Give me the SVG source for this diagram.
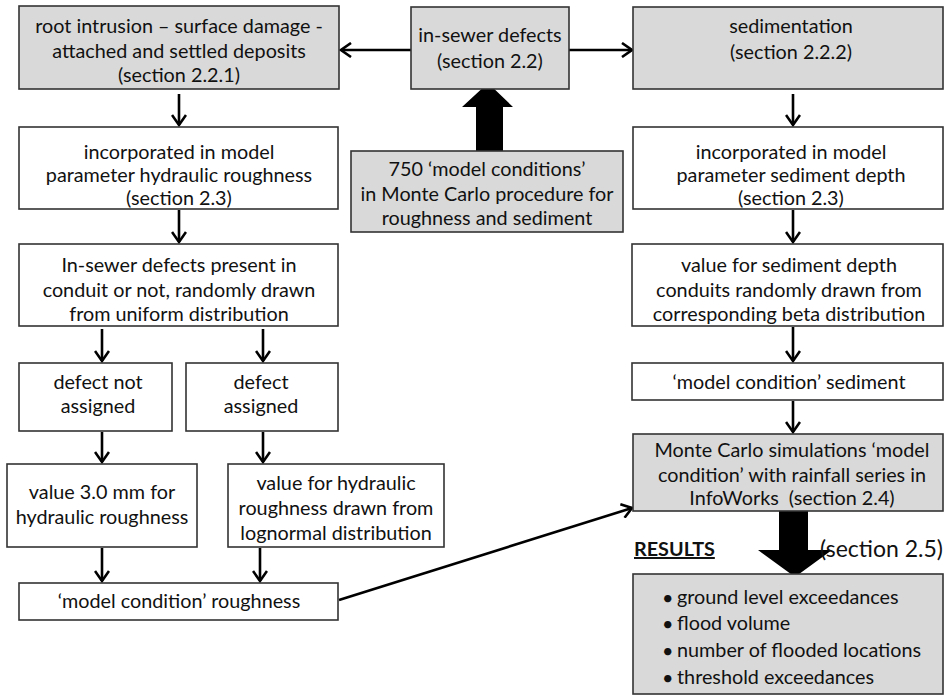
<svg xmlns="http://www.w3.org/2000/svg" width="944" height="695" viewBox="0 0 944 695">
  <style>
    .box { stroke: #333; stroke-width: 1.6; }
    .grey { fill: #d9d9d9; }
    .white { fill: #ffffff; }
    text { font-family: Lato, "Open Sans", "Liberation Sans", sans-serif; font-size: 19.8px; fill: #111; text-anchor: middle; }
    .left { text-anchor: start; }
    .bold { font-weight: bold; }
    .large { font-size: 23px; }
    .conn { fill: none; stroke: #000; stroke-width: 2.6; }
    .big { fill: #000; }
  </style>
  <defs>
    <marker id="open" viewBox="0 0 14 16" refX="12" refY="8" markerWidth="14" markerHeight="16" markerUnits="userSpaceOnUse" orient="auto">
      <path d="M2,1 L12,8 L2,15" fill="none" stroke="#000" stroke-width="2.6" stroke-linejoin="miter"/>
    </marker>
  </defs>

  <rect width="944" height="695" fill="#ffffff"/>

  <!-- connectors -->
  <g id="connectors">
    <line class="conn" x1="411" y1="50" x2="341" y2="50" marker-end="url(#open)"/>
    <line class="conn" x1="569" y1="50" x2="632" y2="50" marker-end="url(#open)"/>
    <line class="conn" x1="179" y1="94" x2="179" y2="125" marker-end="url(#open)"/>
    <line class="conn" x1="793" y1="94" x2="793" y2="125" marker-end="url(#open)"/>
    <line class="conn" x1="179" y1="210" x2="179" y2="242" marker-end="url(#open)"/>
    <line class="conn" x1="793" y1="210" x2="793" y2="242" marker-end="url(#open)"/>
    <line class="conn" x1="102" y1="329" x2="102" y2="361" marker-end="url(#open)"/>
    <line class="conn" x1="263" y1="329" x2="263" y2="361" marker-end="url(#open)"/>
    <line class="conn" x1="793" y1="327" x2="793" y2="361" marker-end="url(#open)"/>
    <line class="conn" x1="102" y1="432" x2="102" y2="462" marker-end="url(#open)"/>
    <line class="conn" x1="263" y1="432" x2="263" y2="462" marker-end="url(#open)"/>
    <line class="conn" x1="793" y1="401" x2="793" y2="432" marker-end="url(#open)"/>
    <line class="conn" x1="102" y1="548" x2="102" y2="581" marker-end="url(#open)"/>
    <line class="conn" x1="260" y1="548" x2="260" y2="581" marker-end="url(#open)"/>
    <line class="conn" x1="339" y1="600" x2="632" y2="508" marker-end="url(#open)"/>
    <!-- block arrows -->
    <polygon class="big" points="476,151 476,107 462,107 488,83 513,107 503,107 503,151"/>
    <polygon class="big" points="779,511 779,550 758,550 795,577 832,550 808,550 808,511"/>
  </g>

  <g id="root-intrusion">
    <rect class="box grey" x="19" y="6" width="320" height="83"/>
    <text x="179" y="33">root intrusion – surface damage -</text>
    <text x="179" y="57.5">attached and settled deposits</text>
    <text x="179" y="82">(section 2.2.1)</text>
  </g>

  <g id="in-sewer-defects">
    <rect class="box grey" x="411" y="7" width="158" height="82"/>
    <text x="490" y="42">in-sewer defects</text>
    <text x="490" y="68">(section 2.2)</text>
  </g>

  <g id="sedimentation">
    <rect class="box grey" x="633" y="7" width="310" height="82"/>
    <text x="791" y="33">sedimentation</text>
    <text x="791" y="59">(section 2.2.2)</text>
  </g>

  <g id="param-roughness">
    <rect class="box white" x="19" y="127" width="319" height="82"/>
    <text x="179" y="159">incorporated in model</text>
    <text x="179" y="182">parameter hydraulic roughness</text>
    <text x="179" y="205">(section 2.3)</text>
  </g>

  <g id="monte-carlo-procedure">
    <rect class="box grey" x="351" y="151" width="272" height="81"/>
    <text x="487" y="176">750 ‘model conditions’</text>
    <text x="487" y="201">in Monte Carlo procedure for</text>
    <text x="487" y="225">roughness and sediment</text>
  </g>

  <g id="param-sediment">
    <rect class="box white" x="633" y="127" width="310" height="82"/>
    <text x="791" y="159">incorporated in model</text>
    <text x="791" y="182">parameter sediment depth</text>
    <text x="791" y="205">(section 2.3)</text>
  </g>

  <g id="defects-present">
    <rect class="box white" x="19" y="244" width="319" height="82"/>
    <text x="179" y="272">In-sewer defects present in</text>
    <text x="179" y="297">conduit or not, randomly drawn</text>
    <text x="179" y="321">from uniform distribution</text>
  </g>

  <g id="sediment-depth-value">
    <rect class="box white" x="632" y="244" width="311" height="82"/>
    <text x="789" y="272">value for sediment depth</text>
    <text x="789" y="297">conduits randomly drawn from</text>
    <text x="789" y="321">corresponding beta distribution</text>
  </g>

  <g id="defect-not-assigned">
    <rect class="box white" x="19" y="363" width="153" height="68"/>
    <text x="98" y="389">defect not</text>
    <text x="98" y="413">assigned</text>
  </g>

  <g id="defect-assigned">
    <rect class="box white" x="186" y="363" width="152" height="68"/>
    <text x="261" y="389">defect</text>
    <text x="261" y="413">assigned</text>
  </g>

  <g id="condition-sediment">
    <rect class="box white" x="632" y="363" width="311" height="37"/>
    <text x="789" y="389">‘model condition’ sediment</text>
  </g>

  <g id="monte-carlo-simulations">
    <rect class="box grey" x="633" y="434" width="310" height="77"/>
    <text x="792" y="457">Monte Carlo simulations ‘model</text>
    <text x="792" y="482">condition’ with rainfall series in</text>
    <text x="792" y="505" xml:space="preserve">InfoWorks  (section 2.4)</text>
  </g>

  <g id="roughness-fixed">
    <rect class="box white" x="7" y="464" width="190" height="83"/>
    <text x="102" y="499">value 3.0 mm for</text>
    <text x="102" y="524">hydraulic roughness</text>
  </g>

  <g id="roughness-lognormal">
    <rect class="box white" x="228" y="464" width="216" height="83"/>
    <text x="336" y="490">value for hydraulic</text>
    <text x="336" y="515">roughness drawn from</text>
    <text x="336" y="540">lognormal distribution</text>
  </g>

  <g id="condition-roughness">
    <rect class="box white" x="19" y="583" width="319" height="37"/>
    <text x="179" y="608">‘model condition’ roughness</text>
  </g>

  <g id="results">
    <text class="left bold" x="634" y="556" text-decoration="underline">RESULTS</text>
    <text class="left large" x="820" y="557">(section 2.5)</text>
    <rect class="box grey" x="633" y="574" width="310" height="120"/>
    <text class="left" x="662" y="605">•</text>
    <text class="left" x="677" y="604">ground level exceedances</text>
    <text class="left" x="662" y="631">•</text>
    <text class="left" x="677" y="630">flood volume</text>
    <text class="left" x="662" y="658">•</text>
    <text class="left" x="677" y="657">number of flooded locations</text>
    <text class="left" x="662" y="685">•</text>
    <text class="left" x="677" y="684">threshold exceedances</text>
  </g>
</svg>
